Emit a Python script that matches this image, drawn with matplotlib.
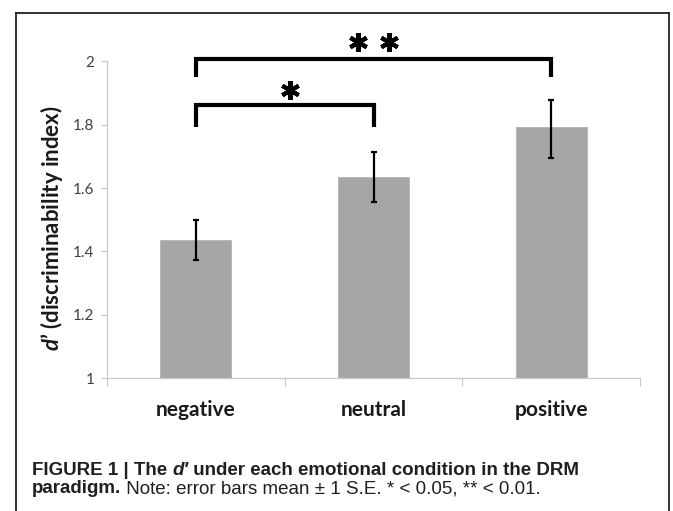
import matplotlib
matplotlib.use("Agg")
import matplotlib.pyplot as plt
from matplotlib.lines import Line2D
import numpy as np

# ---- data ----
categories = ["negative", "neutral", "positive"]
means = [1.436, 1.634, 1.793]
err_low = [0.063, 0.078, 0.099]
err_high = [0.063, 0.081, 0.085]
yticks = [1.0, 1.2, 1.4, 1.6, 1.8, 2.0]
ytick_labels = ["1", "1.2", "1.4", "1.6", "1.8", "2"]
ylabel = r"$\mathit{d}$’ (discriminability index)"

# significance brackets: (left category, right category, bar height, leg bottom)
brackets = [(0, 1, 1.863, 1.793), (0, 2, 2.008, 1.951)]
star_x = [0.528, 0.91, 1.09]
star_y = [1.91, 2.062, 2.062]

plt.rcParams['mathtext.fontset'] = 'custom'
plt.rcParams['mathtext.it'] = 'Lato:italic:bold'
plt.rcParams['mathtext.rm'] = 'Lato:bold'

fig = plt.figure(figsize=(6.73, 5.11), dpi=100)
W, H = 673, 511
ax = fig.add_axes([107 / W, 1 - 378 / H, (640 - 107) / W, (378 - 29.8) / H])

x = np.arange(len(categories))
ax.bar(x, means, width=0.4, color='#a6a6a6', edgecolor='#b4b4b4', linewidth=0.6,
       yerr=[err_low, err_high],
       error_kw=dict(ecolor='black', elinewidth=1.6, capsize=2.5, capthick=1.6))

ax.set_xlim(-0.5, 2.5)
ax.set_ylim(1.0, 2.1)

for s in ['top', 'right']:
    ax.spines[s].set_visible(False)
for s in ['left', 'bottom']:
    ax.spines[s].set_color('#c8c8c8')
    ax.spines[s].set_linewidth(0.9)
ax.spines['left'].set_bounds(1.0, 2.0)

ax.set_yticks(yticks)
ax.set_yticklabels(ytick_labels, fontfamily='Lato', fontsize=11, color='#404040')
ax.tick_params(axis='y', length=4, width=0.8, color='#c8c8c8', pad=5)

ax.set_xticks(x)
ax.set_xticklabels(categories, fontfamily='Lato', fontweight='bold', fontsize=15, color='#1a1a1a')
ax.set_xticks([-0.5, 0.5, 1.5, 2.5], minor=True)
ax.tick_params(axis='x', which='major', length=0, pad=16)
ax.tick_params(axis='x', which='minor', length=5.5, width=0.8, color='#c8c8c8', direction='out')

ax.set_ylabel(ylabel, fontfamily='Lato', fontweight='bold', fontsize=16, color='#1a1a1a')
ax.yaxis.set_label_coords(-0.078, 0.43)

for (l, r, h, b) in brackets:
    ax.plot([l, l, r, r], [b, h, h, b], color='black', lw=3.0, solid_joinstyle='miter',
            solid_capstyle='butt', clip_on=False)
ax.plot(star_x, star_y, linestyle='none', marker=(6, 2, 0), markersize=13.5,
        markeredgewidth=3.0, color='black', clip_on=False)

# frame around figure
fc = '#222222'
fig.add_artist(Line2D([15.5 / W, 15.5 / W], [0, 1 - 13 / H], color=fc, lw=1.3))
fig.add_artist(Line2D([669 / W, 669 / W], [0, 1 - 13 / H], color=fc, lw=1.3))
fig.add_artist(Line2D([15.5 / W, 669 / W], [1 - 13 / H, 1 - 13 / H], color=fc, lw=1.3))

# caption
cap_font = ['Liberation Sans', 'DejaVu Sans']
cc = '#231f20'
fs = 13.5
t1 = fig.text(32 / W, 1 - 479 / H, "FIGURE 1 | The ", fontfamily=cap_font, fontweight='bold',
              fontsize=fs, color=cc, va='bottom', ha='left')
t2 = plt.annotate("d′", xy=(1, 0), xycoords=t1, fontfamily=cap_font, fontweight='bold',
                  fontstyle='italic', fontsize=fs, color=cc, va='bottom', ha='left')
t3 = plt.annotate(" under each emotional condition in the DRM", xy=(1, 0), xycoords=t2,
                  fontfamily=cap_font, fontweight='bold', fontsize=fs, color=cc,
                  va='bottom', ha='left')
t4 = fig.text(32 / W, 1 - 497 / H, "paradigm.", fontfamily=cap_font, fontweight='bold',
              fontsize=fs, color=cc, va='bottom', ha='left')
t5 = plt.annotate(" Note: error bars mean ± 1 S.E. * < 0.05, ** < 0.01.", xy=(1, 0),
                  xycoords=t4, fontfamily=cap_font, fontsize=fs, color=cc,
                  va='bottom', ha='left')

fig.savefig("out.png", dpi=100)
